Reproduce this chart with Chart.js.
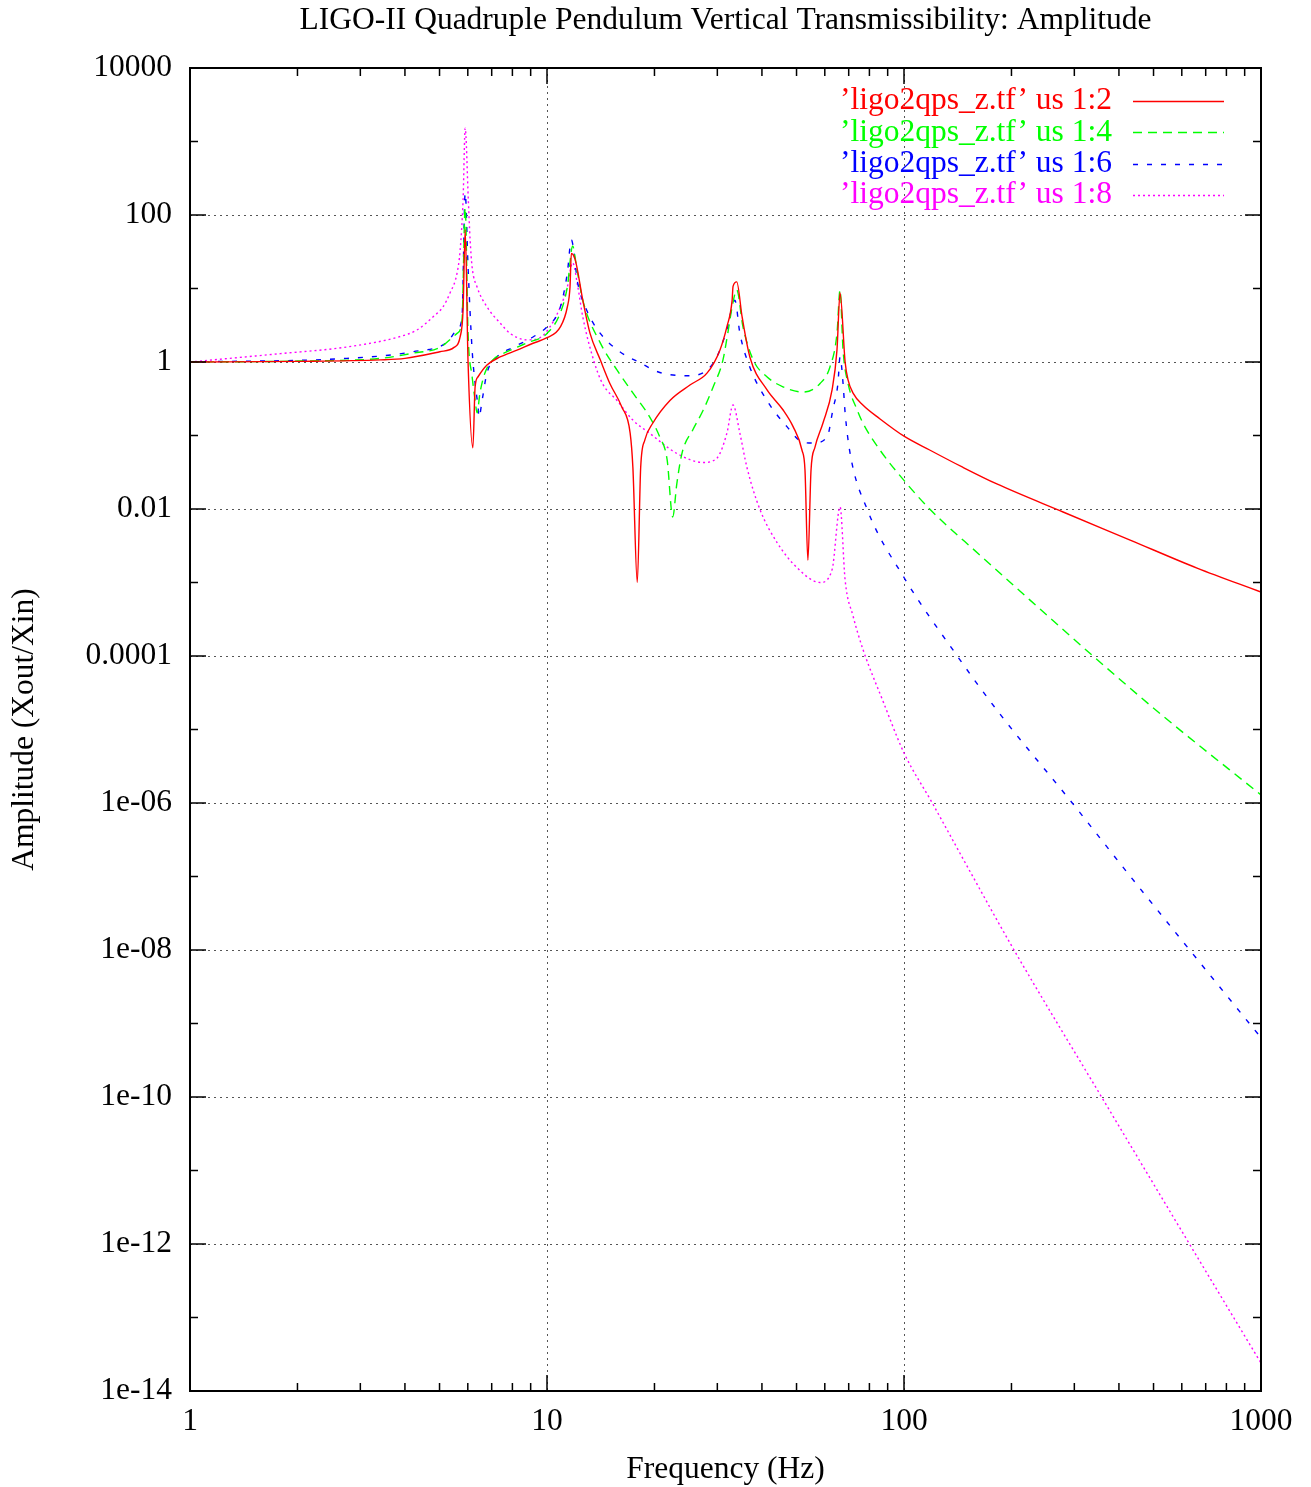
<!DOCTYPE html>
<html>
<head>
<meta charset="utf-8">
<title>LIGO-II Quadruple Pendulum Vertical Transmissibility</title>
<script src="https://cdn.jsdelivr.net/npm/chart.js@4.4.1/dist/chart.umd.min.js"></script>
<style>
  html, body { margin: 0; padding: 0; background: #fff; }
  #wrap { width: 1311px; height: 1487px; }
</style>
</head>
<body>
<div id="wrap"><canvas id="tfChart" width="1311" height="1487"></canvas></div>
<script>
// Values: frequency (Hz) and amplitude (Xout/Xin)
var redFreq = [1, 2, 3.41, 4.0, 5.01, 5.49, 5.71, 5.82, 5.9, 6.01,
    6.2, 6.29, 6.41, 6.79, 7.39, 8.24, 9.14, 10, 10.9, 11.4,
    11.6, 11.7, 12.0, 12.6, 13.2, 14.1, 15.0, 16.2, 17.1, 17.4,
    17.9, 18.3, 18.8, 19.8, 22.1, 25.2, 28.1, 30.5, 31.9, 33.0,
    33.2, 34.0, 35.2, 37.0, 41.3, 45.8, 48.9, 51.8, 52.8, 53.8,
    54.9, 56.3, 59.3, 62.9, 64.9, 66.2, 68.4, 69.7, 72.0, 76.7,
    85.7, 100, 118, 146, 182, 279, 430, 662, 1000];
var redAmp = [1.0, 1.02, 1.07, 1.12, 1.38, 1.58, 2.2, 5.1, 63, 1.0,
    0.068, 0.46, 0.63, 0.91, 1.17, 1.45, 1.8, 2.14, 3.0, 5.6,
    10.5, 30, 24.5, 6.9, 2.45, 1.07, 0.51, 0.245, 0.107, 0.037,
    0.001, 0.037, 0.087, 0.148, 0.30, 0.49, 0.71, 1.45, 3.0, 6.9,
    10.7, 12.3, 4.1, 1.17, 0.42, 0.224, 0.132, 0.063, 0.034, 0.002,
    0.034, 0.069, 0.148, 0.42, 1.45, 8.7, 1.0, 0.57, 0.378, 0.26,
    0.168, 0.098, 0.0635, 0.037, 0.0219, 0.0091, 0.00378, 0.00157, 0.00074];

var greenFreq = [1, 2, 3.41, 4.21, 5.01, 5.6, 5.78, 5.9, 6.01, 6.17,
    6.29, 6.37, 6.49, 6.7, 7.06, 7.73, 8.79, 10, 10.9, 11.4,
    11.8, 12.1, 12.6, 14.1, 15.7, 17.4, 19.4, 20.7, 21.7, 22.5,
    23.1, 23.9, 25.6, 27.4, 29.2, 31.1, 32.1, 33.0, 34.0, 35.4,
    37.8, 41.3, 45.8, 52.1, 58.2, 62.0, 64.9, 66.2, 67.5, 69.7,
    73.9, 76.7, 85.7, 100, 118, 163, 225, 336, 531, 1000];
var greenAmp = [1.0, 1.03, 1.12, 1.32, 1.58, 2.45, 3.72, 126, 2.45, 0.63,
    0.30, 0.204, 0.38, 0.71, 1.07, 1.38, 1.82, 2.45, 4.68, 10.5,
    38, 19.5, 6.9, 1.82, 0.78, 0.38, 0.178, 0.095, 0.047, 0.0078,
    0.022, 0.058, 0.119, 0.222, 0.457, 1.06, 2.48, 5.6, 9.55, 3.0,
    1.07, 0.63, 0.46, 0.39, 0.51, 0.85, 2.45, 9.55, 1.45, 0.51,
    0.224, 0.148, 0.063, 0.0245, 0.01, 0.00237, 5.8e-4, 1.03e-4, 1.53e-5, 1.29e-6];

var blueFreq = [1, 2.75, 4.21, 5.25, 5.6, 5.78, 5.9, 6.01, 6.17, 6.29,
    6.41, 6.45, 6.58, 6.79, 7.24, 8.03, 9.14, 10, 10.9, 11.4,
    11.7, 12.2, 12.9, 14.1, 16.0, 18.2, 20.7, 25.2, 28.1, 29.9,
    31.9, 33.6, 34.7, 37.0, 41.3, 47.0, 52.1, 55.6, 60.9, 63.2,
    65.3, 66.2, 67.5, 68.4, 70.6, 78.8, 100, 141, 182, 296,
    421, 605, 1000];
var blueAmp = [1.0, 1.12, 1.38, 1.86, 2.75, 4.07, 200, 19.5, 1.45, 0.51,
    0.245, 0.178, 0.30, 0.71, 1.17, 1.58, 2.19, 3.02, 5.62, 16.2,
    45.7, 11.7, 5.13, 2.45, 1.38, 0.98, 0.72, 0.65, 0.78, 1.17,
    2.75, 6.92, 2.45, 0.85, 0.30, 0.132, 0.081, 0.079, 0.095, 0.224,
    0.51, 1.17, 0.51, 0.204, 0.058, 0.01, 0.00117, 1.0e-4, 1.84e-5, 1.0e-6,
    1.15e-7, 1.29e-8, 6.4e-10];

var magentaFreq = [1, 1.79, 2.75, 3.85, 4.32, 4.79, 5.11, 5.35, 5.6, 5.71,
    5.82, 5.9, 6.02, 6.09, 6.17, 6.37, 6.79, 7.39, 7.88, 8.79,
    9.56, 10.2, 10.9, 11.4, 11.8, 12.2, 12.6, 13.5, 14.3, 15.7,
    17.4, 19.4, 23.1, 27.4, 29.9, 31.9, 33.2, 34.7, 36.3, 39.5,
    44.1, 50.1, 58.2, 62.9, 66.2, 68.4, 72.0, 76.7, 87.3, 100,
    120, 155, 201, 359, 632, 1000];
var magentaAmp = [1.0, 1.3, 1.6, 2.2, 2.72, 4.09, 5.6, 8.7, 16.3, 33,
    160, 1514, 160, 46, 19.5, 10.5, 5.62, 3.39, 2.45, 2.0,
    2.14, 3.02, 5.62, 10.5, 22.4, 10.5, 4.07, 1.07, 0.51, 0.30,
    0.162, 0.107, 0.057, 0.043, 0.049, 0.107, 0.26, 0.107, 0.037, 0.0098,
    0.0035, 0.0016, 0.001, 0.0015, 0.0107, 0.00108, 3.5e-4, 1.24e-4, 2.44e-5, 4.8e-6,
    1.0e-6, 1.05e-7, 1.1e-8, 9.7e-11, 9.8e-13, 2.4e-14];

var seriesLabels = ['\u2019ligo2qps_z.tf\u2019 us 1:2', '\u2019ligo2qps_z.tf\u2019 us 1:4',
    '\u2019ligo2qps_z.tf\u2019 us 1:6', '\u2019ligo2qps_z.tf\u2019 us 1:8'];
var xTickValues = [1, 10, 100, 1000];
var xTickLabels = ['1', '10', '100', '1000'];
var yTickValues = [1e4, 1e2, 1, 1e-2, 1e-4, 1e-6, 1e-8, 1e-10, 1e-12, 1e-14];
var yTickLabels = ['10000', '100', '1', '0.01', '0.0001', '1e-06', '1e-08', '1e-10', '1e-12', '1e-14'];

var FONT = "'Liberation Serif', 'DejaVu Serif', serif";
var FONT_SIZE = 31.5;

function toPoints(freq, amp) {
    return freq.map(function(f, i) { return { x: f, y: amp[i] }; });
}

function makeSet(label, freq, amp, color, dash) {
    return {
        label: label,
        data: toPoints(freq, amp),
        borderColor: color,
        borderWidth: 1.4,
        borderDash: dash,
        pointRadius: 0,
        fill: false,
        cubicInterpolationMode: 'monotone'
    };
}

// gnuplot-like frame, inward ticks, dotted grid, legend and titles
var gnuplotDecor = {
    id: 'gnuplotDecor',
    beforeDatasetsDraw: function(chart) {
        var ctx = chart.ctx, a = chart.chartArea;
        var xs = chart.scales.x, ys = chart.scales.y;
        ctx.save();
        ctx.strokeStyle = '#555';
        ctx.lineWidth = 1;
        ctx.setLineDash([2, 4]);
        xTickValues.slice(1, -1).forEach(function(v) {
            var px = Math.round(xs.getPixelForValue(v)) + 0.5;
            ctx.beginPath(); ctx.moveTo(px, a.top); ctx.lineTo(px, a.bottom); ctx.stroke();
        });
        yTickValues.slice(1, -1).forEach(function(v) {
            var py = Math.round(ys.getPixelForValue(v)) + 0.5;
            ctx.beginPath(); ctx.moveTo(a.left, py); ctx.lineTo(a.right, py); ctx.stroke();
        });
        ctx.restore();
    },
    afterDraw: function(chart) {
        var ctx = chart.ctx, a = chart.chartArea;
        var xs = chart.scales.x, ys = chart.scales.y;
        ctx.save();
        ctx.strokeStyle = '#000';
        ctx.lineWidth = 2;
        ctx.setLineDash([]);
        ctx.strokeRect(a.left, a.top, a.right - a.left, a.bottom - a.top);

        // x ticks (bottom + mirrored top)
        ctx.lineWidth = 1.5;
        for (var d = 1; d <= 1000; d *= 10) {
            for (var m = 1; m <= 9; m++) {
                var v = d * m;
                if (v > 1000) break;
                var len = m === 1 ? 16 : 8;
                var px = xs.getPixelForValue(v);
                ctx.beginPath();
                ctx.moveTo(px, a.bottom); ctx.lineTo(px, a.bottom - len);
                ctx.moveTo(px, a.top); ctx.lineTo(px, a.top + len);
                ctx.stroke();
            }
        }
        // y ticks (left + mirrored right)
        for (var e = -14; e <= 4; e++) {
            var py = ys.getPixelForValue(Math.pow(10, e));
            var l = (e % 2 === 0) ? 16 : 8;
            ctx.beginPath();
            ctx.moveTo(a.left, py); ctx.lineTo(a.left + l, py);
            ctx.moveTo(a.right, py); ctx.lineTo(a.right - l, py);
            ctx.stroke();
        }

        // legend: text right-aligned, sample line to the right
        ctx.font = FONT_SIZE + 'px ' + FONT;
        ctx.textAlign = 'right';
        ctx.textBaseline = 'middle';
        chart.data.datasets.forEach(function(ds, i) {
            var ly = 101 + i * 31.4;
            ctx.fillStyle = ds.borderColor;
            ctx.fillText(ds.label, 1112, ly);
            ctx.strokeStyle = ds.borderColor;
            ctx.lineWidth = 1.4;
            ctx.setLineDash(ds.borderDash || []);
            ctx.beginPath();
            ctx.moveTo(1133, Math.round(ly) + 0.5);
            ctx.lineTo(1224, Math.round(ly) + 0.5);
            ctx.stroke();
        });
        ctx.setLineDash([]);

        // titles
        ctx.fillStyle = '#000';
        ctx.textAlign = 'center';
        ctx.fillText('LIGO-II Quadruple Pendulum Vertical Transmissibility: Amplitude', (a.left + a.right) / 2, 21);
        ctx.fillText('Frequency (Hz)', (a.left + a.right) / 2, 1470);
        ctx.translate(25, (a.top + a.bottom) / 2);
        ctx.rotate(-Math.PI / 2);
        ctx.fillText('Amplitude (Xout/Xin)', 0, 0);
        ctx.restore();
    }
};

var ctx = document.getElementById('tfChart').getContext('2d');
new Chart(ctx, {
    type: 'line',
    data: {
        datasets: [
            makeSet(seriesLabels[0], redFreq, redAmp, '#ff0000', []),
            makeSet(seriesLabels[1], greenFreq, greenAmp, '#00ff00', [9, 6]),
            makeSet(seriesLabels[2], blueFreq, blueAmp, '#0000ff', [5, 9]),
            makeSet(seriesLabels[3], magentaFreq, magentaAmp, '#ff00ff', [2, 3])
        ]
    },
    options: {
        responsive: false,
        animation: false,
        devicePixelRatio: 1,
        layout: { padding: { left: 0, top: 68, right: 50, bottom: 0 } },
        plugins: {
            legend: { display: false },
            title: { display: false },
            tooltip: { enabled: false }
        },
        scales: {
            x: {
                type: 'logarithmic',
                min: 1,
                max: 1000,
                afterBuildTicks: function(scale) {
                    scale.ticks = xTickValues.map(function(v) { return { value: v }; });
                },
                afterFit: function(scale) { scale.height = 96; },
                ticks: {
                    autoSkip: false,
                    maxRotation: 0,
                    padding: 12,
                    color: '#000',
                    font: { family: FONT, size: FONT_SIZE },
                    callback: function(value, index) { return xTickLabels[index]; }
                },
                grid: { display: false, drawTicks: false },
                border: { display: false }
            },
            y: {
                type: 'logarithmic',
                min: 1e-14,
                max: 1e4,
                afterBuildTicks: function(scale) {
                    scale.ticks = yTickValues.map(function(v) { return { value: v }; });
                },
                afterFit: function(scale) { scale.width = 190; },
                ticks: {
                    autoSkip: false,
                    padding: 18,
                    color: '#000',
                    font: { family: FONT, size: FONT_SIZE },
                    callback: function(value, index) { return yTickLabels[index]; }
                },
                grid: { display: false, drawTicks: false },
                border: { display: false }
            }
        }
    },
    plugins: [gnuplotDecor]
});
</script>
</body>
</html>
